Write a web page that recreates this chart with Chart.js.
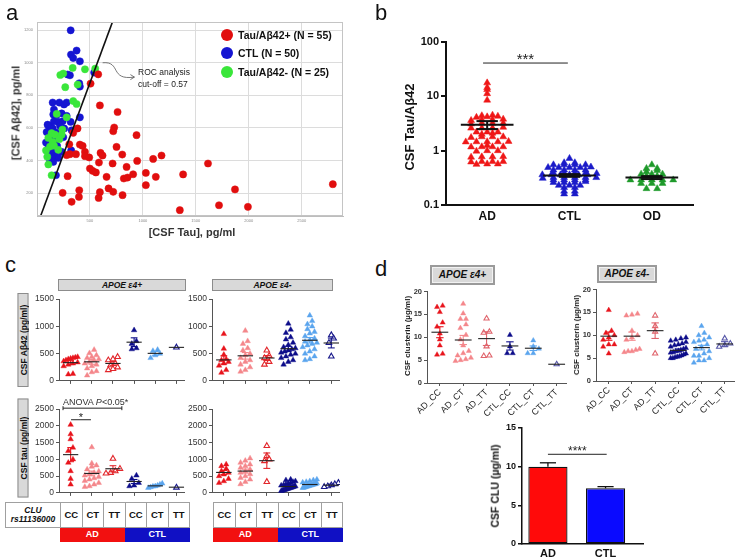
<!DOCTYPE html>
<html>
<head>
<meta charset="utf-8">
<title>CSF tau, Aβ42 and clusterin</title>
<script src="https://cdn.jsdelivr.net/npm/chart.js@4.4.1/dist/chart.umd.min.js"></script>
<style>
  body { margin: 0; background: #fff; }
  #fig { position: relative; width: 740px; height: 560px; overflow: hidden; background: #fff;
         font-family: "Liberation Sans", Arial, sans-serif; color: #111; }
  #fig canvas { position: absolute; }
  .txt { position: absolute; white-space: nowrap; line-height: 1; }
  .rot { position: absolute; white-space: nowrap; line-height: 1; transform: translate(-50%, -50%) rotate(-90deg); }
  .hdr { position: absolute; box-sizing: border-box; background: #d9d9d9; border: 1px solid #8c8c8c;
         font-style: italic; font-weight: bold; text-align: center; }
  .cell { position: absolute; box-sizing: border-box; display: flex; align-items: center; justify-content: center;
          text-align: center; font-weight: bold; line-height: 1.1; }
</style>
</head>
<body>
<div id="fig"></div>
<script>
// ---------- data: panel a (CSF Tau vs CSF Aβ42, pg/ml) ----------
const posTau = [578,506,594,761,383,342,940,729,720,305,405,431,311,368,453,453,493,600,619,751,805,714,585,946,1097,1176,1615,280,500,525,556,657,846,908,820,855,1028,1122,1028,1380,289,399,242,327,396,594,582,676,720,808,1349,1719,1870,1992,2794];
const posAb  = [929,872,738,698,597,570,556,603,580,500,498,490,439,439,453,427,419,447,431,484,437,382,388,398,410,431,382,433,351,337,327,300,361,316,290,296,324,300,249,315,304,218,202,147,177,206,171,229,208,188,96,126,223,116,255];
const ctlTau = [318,374,321,342,405,289,311,540,399,405,148,211,255,280,160,233,154,280,242,318,405,160,201,123,217,148,257,107,186,129,85,116,323,129,170,201,138,123,154,179,327,233,107,91,186,248,170,140,190,100];
const ctlAb  = [1199,1075,1050,1029,1009,928,923,940,874,854,756,756,744,756,713,689,683,674,641,637,665,641,637,613,613,597,597,580,572,539,511,490,462,437,433,417,413,400,392,310,586,453,478,575,680,543,521,470,490,620];
const negTau = [337,453,550,248,267,384,342,374,186,280,138,170,233,107,148,211,123,160,85,107,138,201,97,220,240];
const negAb  = [968,960,964,934,850,866,765,747,686,665,568,559,559,539,515,531,486,492,462,376,310,466,423,925,590];
const rocCutoff = 0.57;          // Tau/Aβ42 ratio
const rocTau = [35, 712];        // ends of the cut-off line

// ---------- data: panel b (CSF Tau/Aβ42 ratio) ----------
const ratioGroups = ['AD', 'CTL', 'OD'];
const ratioAD  = [17.7,14.5,13.3,11.2,8.5,4.5,4.4,4.2,4.1,4.3,3.7,3.7,3.8,3.6,3.2,3.2,3.1,3.2,2.6,2.6,2.7,2.6,2.2,2.2,2.1,2.2,2.0,1.8,1.8,1.75,1.8,1.46,1.46,1.45,1.48,1.46,1.25,1.18,1.18,1.17,1.18,1.0,1.0,0.98,0.77,0.77,0.78,0.76,0.63,0.63,0.62,0.63,0.57,0.57,0.56];
const ratioCTL = [0.72,0.6,0.6,0.55,0.55,0.55,0.55,0.5,0.49,0.49,0.49,0.49,0.44,0.44,0.44,0.44,0.39,0.39,0.39,0.39,0.38,0.36,0.36,0.36,0.36,0.36,0.36,0.32,0.32,0.32,0.32,0.32,0.31,0.29,0.29,0.29,0.29,0.26,0.26,0.26,0.27,0.23,0.23,0.23,0.21,0.21,0.18,0.18,0.16,0.16];
const ratioOD  = [0.55,0.47,0.47,0.43,0.41,0.37,0.37,0.37,0.34,0.34,0.29,0.29,0.29,0.29,0.29,0.25,0.25,0.25,0.2,0.2];
const ratioMean = [3.0, 0.35, 0.32];
const ratioSem  = [0.5, 0.02, 0.02];

// ---------- data: panel c (by CLU rs11136000 genotype) ----------
const genotypes = ['CC', 'CT', 'TT', 'CC', 'CT', 'TT'];
const abE4pos = [
  [440,430,420,410,400,380,360,340,320,300,270,130,120],
  [570,510,470,440,420,400,380,350,320,300,270,230,180,160,100],
  [440,400,380,320,290,250,220,200],
  [930,730,680,600,580],
  [570,550,500,470,420],
  [615]];
const abE4posMean = [335, 350, 320, 710, 505, 615];
const abE4posSem  = [35, 45, 35, 80, 35, 0];
const abE4neg = [
  [860,590,480,400,380,350,320,280,200,150],
  [920,730,680,600,560,500,470,420,380,350,300,250,200,170],
  [560,460,420,350,300],
  [1050,940,880,800,760,700,660,620,600,580,560,540,520,500,480,450,420,380,350,300],
  [1200,1100,1040,1000,950,900,870,820,780,750,720,700,680,650,620,580,540,500,450,400,380],
  [840,780,700,450]];
const abE4negMean = [385, 460, 420, 590, 745, 695];
const abE4negSem  = [75, 60, 45, 45, 50, 90];
const tauE4pos = [
  [2030,1750,1600,1350,1250,1000,900,650,420,250],
  [1360,880,820,780,700,640,600,560,520,480,440,400,360,300,250,200,180],
  [1020,720,650,600,580],
  [520,420,300,220,200],
  [280,250,220,200,190,170,150],
  [160]];
const tauE4posMean = [1140, 580, 720, 340, 210, 170];
const tauE4posSem  = [210, 70, 90, 60, 25, 0];
const tauE4neg = [
  [850,800,720,650,600,550,500,420,350,300],
  [1030,960,900,850,800,750,700,650,600,560,500,450,400,330,260],
  [1400,1100,1000,950,330],
  [400,380,350,330,300,280,260,240,220,200,190,180,170,160,150,140,130,120,110,100,90,80,70,60],
  [400,380,350,330,310,290,270,260,250,240,230,220,210,200,190,180,170,160,150],
  [300,260,230,200,180]];
const tauE4negMean = [610, 650, 960, 190, 250, 230];
const tauE4negSem  = [60, 60, 230, 25, 20, 30];

// ---------- data: panel d (CSF clusterin, µg/ml) ----------
const cluGroups = ['AD_CC', 'AD_CT', 'AD_TT', 'CTL_CC', 'CTL_CT', 'CTL_TT'];
const cluE4pos = [
  [16.9,16.6,15.5,13.2,12.3,10.8,9.5,8.2,6.4,6.2],
  [17.3,15.2,14.0,14.0,12.8,12.0,10.5,9.5,8.2,7.0,6.0,5.5,5.0,4.8,5.2,6.5],
  [14.1,11.2,11.0,8.0,6.0,5.9],
  [10.5,8.0,6.5,6.5],
  [9.3,8.0,7.5,6.5,6.5],
  [4.1]];
const cluE4posMean = [11.1, 9.4, 9.7, 8.1, 7.6, 4.1];
const cluE4posSem  = [1.2, 1.0, 1.5, 0.9, 0.5, 0];
const cluE4neg = [
  [15.5,11.0,10.5,10.0,9.5,9.0,8.0,8.0,7.5,6.0],
  [14.7,14.5,14.3,11.0,10.0,9.5,9.0,7.0,6.8,6.5,6.5,6.3],
  [14.3,12.0,10.8,6.0],
  [9.5,9.3,9.0,8.5,8.2,8.0,7.5,7.2,7.0,6.8,6.5,6.3,6.0,5.8,5.6,5.4,5.2,5.0,5.0,5.3,6.2,7.8,8.8,6.6],
  [12.0,10.5,10.0,9.5,9.0,8.5,8.0,7.5,7.0,6.5,6.0,5.5,5.0,4.5,4.0,4.5,5.5,8.8],
  [9.3,8.2,7.8,7.5]];
const cluE4negMean = [9.8, 9.8, 11.0, 6.7, 7.3, 8.1];
const cluE4negSem  = [0.9, 0.9, 1.7, 0.3, 0.5, 0.5];
const cluBarGroups = ['AD', 'CTL'];
const cluBarMean = [10.0, 7.2];
const cluBarSem  = [0.5, 0.22];

// ---------- setup ----------
const FONT = '"Liberation Sans", Arial, sans-serif';
Chart.defaults.font.family = FONT;
Chart.defaults.color = '#222';
Chart.defaults.animation = false;
Chart.defaults.responsive = false;
Chart.defaults.plugins.legend.display = false;
Chart.defaults.plugins.tooltip.enabled = false;

// lets each chart draw its own extras (means, brackets, ...) over the datasets
Chart.register({
  id: 'deco',
  afterDatasetsDraw(chart, args, opts) {
    if (!opts.draw) return;
    const ctx = chart.ctx;
    ctx.save();
    opts.draw(chart, ctx);
    ctx.restore();
  }
});

const fig = document.getElementById('fig');
const plain = v => String(v);

function makeCanvas(x, y, w, h) {
  const cv = document.createElement('canvas');
  cv.width = w; cv.height = h;
  cv.style.cssText = `left:${x}px;top:${y}px;width:${w}px;height:${h}px`;
  fig.appendChild(cv);
  return cv;
}

// box = canvas [x,y,w,h], plot = wanted chart area [l,t,r,b], both in page pixels
function frame(box, plot) {
  const [bx, by, bw, bh] = box, [l, t, r, b] = plot;
  return {
    canvas: makeCanvas(bx, by, bw, bh),
    padding: { left: 0, top: t - by, right: bx + bw - r, bottom: 0 },
    yw: l - bx,
    xh: by + bh - b
  };
}

// spread points of similar value sideways (simple beeswarm)
function swarm(vals, tol, step, maxW) {
  const idx = vals.map((v, i) => i).sort((a, b) => vals[a] - vals[b]);
  const off = new Array(vals.length).fill(0);
  let row = [];
  const flush = () => {
    const k = row.length;
    const s = k > 1 ? Math.min(step, maxW / (k - 1)) : 0;
    row.forEach((j, n) => { off[j] = (n - (k - 1) / 2) * s; });
    row = [];
  };
  idx.forEach(i => {
    if (row.length && vals[i] - vals[row[0]] > tol) flush();
    row.push(i);
  });
  flush();
  return off;
}

function line(ctx, x1, y1, x2, y2) {
  ctx.beginPath(); ctx.moveTo(x1, y1); ctx.lineTo(x2, y2); ctx.stroke();
}

function meanBars(ch, ctx, means, sems, errColors, meanColor, half, cap, lw) {
  const xs = ch.scales.x, ys = ch.scales.y;
  means.forEach((m, g) => {
    const cx = xs.getPixelForValue(g);
    ctx.lineWidth = lw;
    if (sems[g] > 0) {
      const yt = ys.getPixelForValue(m + sems[g]), yb = ys.getPixelForValue(m - sems[g]);
      const w = xs.getPixelForValue(g + cap) - cx;
      ctx.strokeStyle = errColors[g];
      line(ctx, cx, yt, cx, yb);
      line(ctx, cx - w, yt, cx + w, yt);
      line(ctx, cx - w, yb, cx + w, yb);
    }
    const my = ys.getPixelForValue(m);
    ctx.strokeStyle = meanColor;
    line(ctx, xs.getPixelForValue(g - half), my, xs.getPixelForValue(g + half), my);
  });
}

function sigBar(ch, ctx, x1, x2, yv, stars, size, ends) {
  const xs = ch.scales.x, ys = ch.scales.y;
  const a = xs.getPixelForValue(x1), b = xs.getPixelForValue(x2), y = ys.getPixelForValue(yv);
  ctx.strokeStyle = '#222'; ctx.lineWidth = 1;
  line(ctx, a, y, b, y);
  if (ends) { line(ctx, a, y - 2, a, y + 2); line(ctx, b, y - 2, b, y + 2); }
  if (stars) {
    ctx.fillStyle = '#222';
    ctx.font = `${size}px ${FONT}`;
    ctx.textAlign = 'center';
    ctx.textBaseline = 'alphabetic';
    ctx.fillText(stars, (a + b) / 2, y + 1);
  }
}

function label(html, x, base, size, extra) {
  const d = document.createElement('div');
  d.className = 'txt';
  d.innerHTML = html;
  d.style.cssText = `left:${x}px;top:${base - 0.85 * size}px;font-size:${size}px;${extra || ''}`;
  fig.appendChild(d);
  return d;
}
function vlabel(html, cx, cy, size, extra) {
  const d = document.createElement('div');
  d.className = 'rot';
  d.innerHTML = html;
  d.style.cssText = `left:${cx}px;top:${cy}px;font-size:${size}px;${extra || ''}`;
  fig.appendChild(d);
  return d;
}
function box(cls, html, x, y, w, h, extra) {
  const d = document.createElement('div');
  d.className = cls;
  d.innerHTML = html;
  d.style.cssText = `left:${x}px;top:${y}px;width:${w}px;height:${h}px;${extra || ''}`;
  fig.appendChild(d);
  return d;
}

// ---------- panel a ----------
(function () {
  const f = frame([0, 10, 352, 222], [37, 22, 343, 216]);
  const pts = (xs, ys) => xs.map((v, i) => ({ x: v, y: ys[i] }));
  const dot = (data, color, order) => ({ type: 'scatter', data, order, pointRadius: 3.6,
    backgroundColor: color, borderColor: color, borderWidth: 0.5 });
  new Chart(f.canvas, {
    type: 'scatter',
    data: { datasets: [
      { type: 'line', order: 0, data: rocTau.map(t => ({ x: t, y: t / rocCutoff })),
        borderColor: '#111', borderWidth: 1.6, pointRadius: 0, fill: false },
      dot(pts(posTau, posAb), '#e10e0e', 1),
      dot(pts(negTau, negAb), '#3ae63a', 2),
      dot(pts(ctlTau, ctlAb), '#1515d2', 3)
    ] },
    options: {
      layout: { padding: f.padding },
      scales: {
        x: { type: 'linear', min: 0, max: 2890,
             afterFit: s => { s.height = f.xh; },
             afterBuildTicks: s => { s.ticks = [500, 1000, 1500, 2000, 2500].map(v => ({ value: v })); },
             ticks: { callback: plain, font: { size: 4 }, color: '#888', padding: 2 },
             grid: { color: '#dcdcdc', drawTicks: false }, border: { color: '#bdbdbd' } },
        y: { min: 60, max: 1250,
             afterFit: s => { s.width = f.yw; },
             afterBuildTicks: s => { s.ticks = [200, 400, 600, 800, 1000, 1200].map(v => ({ value: v })); },
             ticks: { callback: plain, font: { size: 4 }, color: '#888', padding: 4 },
             grid: { color: '#dcdcdc', drawTicks: false }, border: { color: '#bdbdbd' } }
      },
      plugins: { deco: { draw: (ch, ctx) => {
        const a = ch.chartArea, xs = ch.scales.x, ys = ch.scales.y;
        ctx.strokeStyle = '#c4c4c4'; ctx.lineWidth = 1;
        ctx.strokeRect(a.left + 0.5, a.top + 0.5, a.width - 1, a.height - 1);
        // curved arrow towards the annotation
        const p = (t, v) => [xs.getPixelForValue(t), ys.getPixelForValue(v)];
        const s = p(620, 1000), c1 = p(800, 1010), c2 = p(680, 890), e = p(920, 912);
        ctx.strokeStyle = '#555'; ctx.lineWidth = 0.8;
        ctx.beginPath(); ctx.moveTo(...s); ctx.bezierCurveTo(...c1, ...c2, ...e); ctx.stroke();
        ctx.beginPath(); ctx.moveTo(e[0] - 4, e[1] - 2.5); ctx.lineTo(e[0], e[1]); ctx.lineTo(e[0] - 4, e[1] + 2.5); ctx.stroke();
      } } }
    }
  });
})();

// ---------- panel b ----------
(function () {
  const f = frame([380, 30, 320, 200], [446, 42, 693, 205]);
  const groups = [ratioAD, ratioCTL, ratioOD];
  const colors = ['#ef1717', '#1b1bc8', '#1f9a2b'];
  const datasets = groups.map((vals, g) => {
    const off = swarm(vals.map(Math.log10), 0.025, 0.13, 0.66);
    return { data: vals.map((v, i) => ({ x: g + off[i], y: v })), pointStyle: 'triangle', pointRadius: 4,
             backgroundColor: colors[g], borderColor: colors[g], borderWidth: 0.5 };
  });
  new Chart(f.canvas, {
    type: 'scatter',
    data: { datasets },
    options: {
      layout: { padding: f.padding },
      scales: {
        x: { type: 'linear', min: -0.5, max: 2.5,
             afterFit: s => { s.height = f.xh; },
             afterBuildTicks: s => { s.ticks = [0, 1, 2].map(v => ({ value: v })); },
             ticks: { callback: v => ratioGroups[v], font: { size: 12, weight: 'bold' }, color: '#111', padding: 4 },
             grid: { display: false, drawTicks: false }, border: { color: '#111', width: 2 } },
        y: { type: 'logarithmic', min: 0.1, max: 100,
             afterFit: s => { s.width = f.yw; },
             afterBuildTicks: s => { s.ticks = [0.1, 1, 10, 100].map(v => ({ value: v })); },
             ticks: { callback: plain, font: { size: 11, weight: 'bold' }, color: '#111', padding: 2 },
             grid: { drawOnChartArea: false, tickLength: 5, color: '#111', lineWidth: 2 },
             border: { color: '#111', width: 2 } }
      },
      plugins: { deco: { draw: (ch, ctx) => {
        meanBars(ch, ctx, ratioMean, ratioSem, ['#111', '#111', '#111'], '#111', 0.32, 0.13, 2);
        sigBar(ch, ctx, -0.05, 0.98, 41, '***', 15, false);
      } } }
    }
  });
})();

// ---------- panels c and d: genotype dot plots ----------
const cFill = ['#e8141c', '#f4878b', '#ffffff', '#0d0d8a', '#5aa5ee', '#ffffff'];
const cEdge = ['#e8141c', '#f4878b', '#e2262b', '#0d0d8a', '#5aa5ee', '#17178a'];
const dEdge = ['#e8141c', '#f4878b', '#e0646c', '#0d0d8a', '#5aa5ee', '#5656a8'];
const isOpen = [false, false, true, false, false, true];

function dotPlot(bx, plot, groups, means, sems, cfg) {
  const f = frame(bx, plot);
  const datasets = groups.map((vals, g) => {
    const off = swarm(vals, cfg.tol, cfg.step, 0.66);
    return { data: vals.map((v, i) => ({ x: g + off[i], y: v })), pointStyle: 'triangle', pointRadius: cfg.r,
             backgroundColor: cFill[g], borderColor: cfg.edge[g], borderWidth: isOpen[g] ? 1.1 : 0.4 };
  });
  const tickFont = cfg.bold ? { size: cfg.fs, weight: 'bold' } : { size: cfg.fs };
  return new Chart(f.canvas, {
    type: 'scatter',
    data: { datasets },
    options: {
      layout: { padding: f.padding },
      scales: {
        x: { type: 'linear', min: -0.55, max: 5.4,
             afterFit: s => { s.height = f.xh; },
             afterBuildTicks: s => { s.ticks = [0, 1, 2, 3, 4, 5].map(v => ({ value: v })); },
             ticks: cfg.xLabels
               ? { display: true, callback: v => cluGroups[v], autoSkip: false, minRotation: 45, maxRotation: 45,
                   font: { size: 9 }, color: '#222', padding: 1 }
               : { display: false },
             grid: { drawOnChartArea: false, tickLength: 3, color: '#555' }, border: { color: '#555' } },
        y: { min: 0, max: cfg.yMax,
             afterFit: s => { s.width = f.yw; },
             ticks: { callback: plain, stepSize: cfg.yStep, font: tickFont, color: '#333', padding: 2 },
             grid: { drawOnChartArea: false, tickLength: 3, color: '#555' }, border: { color: '#555' } }
      },
      plugins: { deco: { draw: (ch, ctx) => {
        meanBars(ch, ctx, means, sems, cfg.edge, '#222', 0.36, 0.16, 1.1);
        if (cfg.extra) cfg.extra(ch, ctx);
      } } }
    }
  });
}

const cAb = { yMax: 1500, yStep: 500, tol: 85, step: 0.22, r: 3.2, fs: 8.5, edge: cEdge };
const cTau = { yMax: 2500, yStep: 500, tol: 140, step: 0.22, r: 3.2, fs: 8.5, edge: cEdge };
dotPlot([28, 292, 162, 96], [59, 299, 185, 384], abE4pos, abE4posMean, abE4posSem, cAb);
dotPlot([183, 292, 162, 96], [212, 299, 343, 385], abE4neg, abE4negMean, abE4negSem, cAb);
dotPlot([28, 400, 162, 100], [59, 409, 185, 496], tauE4pos, tauE4posMean, tauE4posSem,
  Object.assign({}, cTau, { extra: (ch, ctx) => {
    sigBar(ch, ctx, -0.36, 2.42, 2525, '', 0, true);
    sigBar(ch, ctx, 0.02, 0.96, 2180, '*', 11, false);
  } }));
dotPlot([183, 400, 162, 100], [212, 409, 343, 496], tauE4neg, tauE4negMean, tauE4negSem, cTau);

const dClu = { yMax: 20, yStep: 5, tol: 1.0, step: 0.24, r: 3, fs: 7.5, bold: true, xLabels: true, edge: dEdge };
dotPlot([400, 285, 172, 135], [427, 291, 566, 383], cluE4pos, cluE4posMean, cluE4posSem, dClu);
dotPlot([572, 283, 168, 137], [596, 289, 734, 381], cluE4neg, cluE4negMean, cluE4negSem, dClu);

// ---------- panel d: bar chart ----------
(function () {
  const f = frame([500, 420, 150, 140], [522, 428, 643, 544]);
  new Chart(f.canvas, {
    type: 'bar',
    data: { datasets: [{
      data: cluBarMean.map((m, i) => ({ x: i, y: m })),
      backgroundColor: ['#ff0a0a', '#0a0aff'], borderColor: '#111', borderWidth: 1.3, borderSkipped: false,
      barPercentage: 0.68, categoryPercentage: 1
    }] },
    options: {
      layout: { padding: f.padding },
      scales: {
        x: { type: 'linear', min: -0.45, max: 1.65, offset: false,
             afterFit: s => { s.height = f.xh; },
             afterBuildTicks: s => { s.ticks = [0, 1].map(v => ({ value: v })); },
             ticks: { callback: v => cluBarGroups[v], font: { size: 11, weight: 'bold' }, color: '#111', padding: 3 },
             grid: { display: false, drawTicks: false, offset: false }, border: { color: '#111', width: 1.5 } },
        y: { min: 0, max: 15,
             afterFit: s => { s.width = f.yw; },
             ticks: { callback: plain, stepSize: 5, font: { size: 9, weight: 'bold' }, color: '#111', padding: 2 },
             grid: { drawOnChartArea: false, tickLength: 4, color: '#111', lineWidth: 1.5 },
             border: { color: '#111', width: 1.5 } }
      },
      plugins: { deco: { draw: (ch, ctx) => {
        const xs = ch.scales.x, ys = ch.scales.y;
        ctx.strokeStyle = '#111'; ctx.lineWidth = 1.3;
        cluBarMean.forEach((m, i) => {
          const cx = xs.getPixelForValue(i), w = xs.getPixelForValue(i + 0.14) - cx;
          const y0 = ys.getPixelForValue(m), y1 = ys.getPixelForValue(m + cluBarSem[i]);
          line(ctx, cx, y0, cx, y1);
          line(ctx, cx - w, y1, cx + w, y1);
        });
        sigBar(ch, ctx, 0, 1.02, 11.6, '****', 12, false);
      } } }
    }
  });
})();

// ---------- text and decorations ----------
// panel letters
label('a', 6, 21, 22);
label('b', 375, 21, 22);
label('c', 5, 273, 22);
label('d', 375, 277, 22);

// panel a legend and titles
[['Tau/Aβ42+ (N = 55)', '#e10e0e', 35], ['CTL (N = 50)', '#1515d2', 53], ['Tau/Aβ42- (N = 25)', '#3ae63a', 72]]
  .forEach(([t, c, cy]) => {
    box('txt', '', 221, cy - 6, 12, 12, `background:${c};border-radius:50%;`);
    label(t, 238, cy + 4, 10.5, 'font-weight:bold;');
  });
label('ROC analysis', 138, 75, 8.5, 'color:#222;');
label('cut-off = 0.57', 138, 87, 8.5, 'color:#222;');
label('[CSF Tau], pg/ml', 192, 236, 11, 'font-weight:bold;color:#333;transform:translateX(-50%);');
vlabel('[CSF Aβ42], pg/ml', 16, 113, 11, 'font-weight:bold;color:#333;');

// panel b title
vlabel('CSF Tau/Aβ42', 409, 127, 13, 'font-weight:bold;');

// panel c headers, axis boxes and table
box('hdr', 'APOE ε4+', 58, 279, 128, 12, 'font-size:8.5px;line-height:10px;');
box('hdr', 'APOE ε4-', 212, 279, 121, 12, 'font-size:8.5px;line-height:10px;');
vlabel('CSF Aβ42 (pg/ml)', 22.5, 340, 8.5,
  'font-weight:bold;background:#d9d9d9;border:1px solid #8c8c8c;width:94px;height:11px;line-height:11px;text-align:center;box-sizing:border-box;');
vlabel('CSF tau (pg/ml)', 22.5, 447.5, 8.5,
  'font-weight:bold;background:#d9d9d9;border:1px solid #8c8c8c;width:99px;height:11px;line-height:11px;text-align:center;box-sizing:border-box;');
label('ANOVA <i>P</i>&lt;0.05*', 63, 406, 9, 'color:#333;');

function genoTable(x0, x1, withHead) {
  const top = 502, mid = 528, bot = 542;
  if (withHead) {
    box('cell', '<i>CLU<br>rs11136000</i>', 5, top, x0 - 5 + 1, mid - top, 'border:1px solid #a0a0a0;font-size:8.5px;');
  }
  const w = (x1 - x0) / 6;
  genotypes.forEach((gt, i) => {
    box('cell', gt, x0 + i * w, top, w + 1, mid - top, 'border:1px solid #a0a0a0;font-size:9.5px;');
  });
  box('cell', 'AD', x0, mid, 3 * w, bot - mid, 'background:#f21010;color:#fff;font-size:9px;');
  box('cell', 'CTL', x0 + 3 * w, mid, 3 * w + 1, bot - mid, 'background:#1010c4;color:#fff;font-size:9px;');
}
genoTable(60, 189, true);
genoTable(213, 342, false);

// panel d headers and titles
box('hdr', 'APOE ε4+', 430, 265, 65, 20,
  'font-size:10px;line-height:16px;border:2px solid #9a9a9a;box-shadow:inset 0 0 0 1px #f2f2f2;');
box('hdr', 'APOE ε4-', 597, 265, 60, 18,
  'font-size:10px;line-height:14px;border:2px solid #9a9a9a;box-shadow:inset 0 0 0 1px #f2f2f2;');
vlabel('CSF clusterin (µg/ml)', 408, 336, 8, 'font-weight:bold;color:#222;');
vlabel('CSF clusterin (µg/ml)', 577, 335, 8, 'font-weight:bold;color:#222;');
vlabel('CSF CLU (µg/ml)', 495, 486, 10.5, 'font-weight:bold;');
</script>
</body>
</html>
